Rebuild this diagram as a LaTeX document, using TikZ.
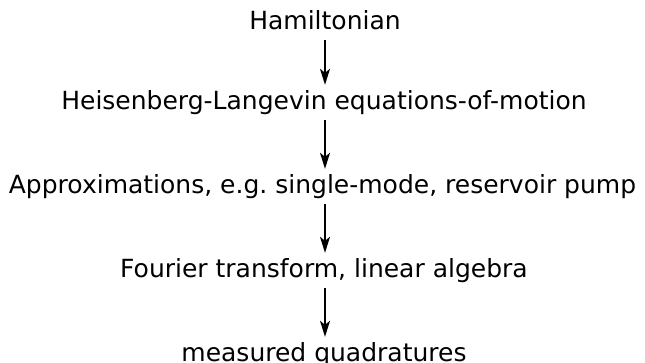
\documentclass[tikz,border=0pt]{standalone}
\usepackage{fontspec}
\setmainfont{DejaVu Sans}
\usetikzlibrary{arrows.meta}
\frenchspacing
\begin{document}
\begin{tikzpicture}[x=1pt,y=-1pt,
  lbl/.style={anchor=base,inner sep=0pt,text height=18.5pt,text depth=6pt,
    font=\fontsize{25}{30}\selectfont},
  arr/.style={line width=1.6pt,shorten <=4.5pt,shorten >=5.5pt,
    -{Stealth[length=16pt,width=10pt,inset=4pt]}}]
\useasboundingbox (0,0) rectangle (645,362);
\coordinate (ax) at (325,0);
\node[lbl] (n1) at (325,29.5) {Hamiltonian};
\node[lbl] (n2) at (324,109) {Heisenberg-Langevin equations-of-motion};
\node[lbl] (n3) at (322.5,193) {Approximations, e.g. single-mode, reservoir pump};
\node[lbl] (n4) at (324,277) {Fourier transform, linear algebra};
\node[lbl] (n5) at (324,361) {measured quadratures};
\draw[arr] (n1.south -| ax) -- (n2.north -| ax);
\draw[arr] (n2.south -| ax) -- (n3.north -| ax);
\draw[arr] (n3.south -| ax) -- (n4.north -| ax);
\draw[arr] (n4.south -| ax) -- (n5.north -| ax);
\end{tikzpicture}
\end{document}
